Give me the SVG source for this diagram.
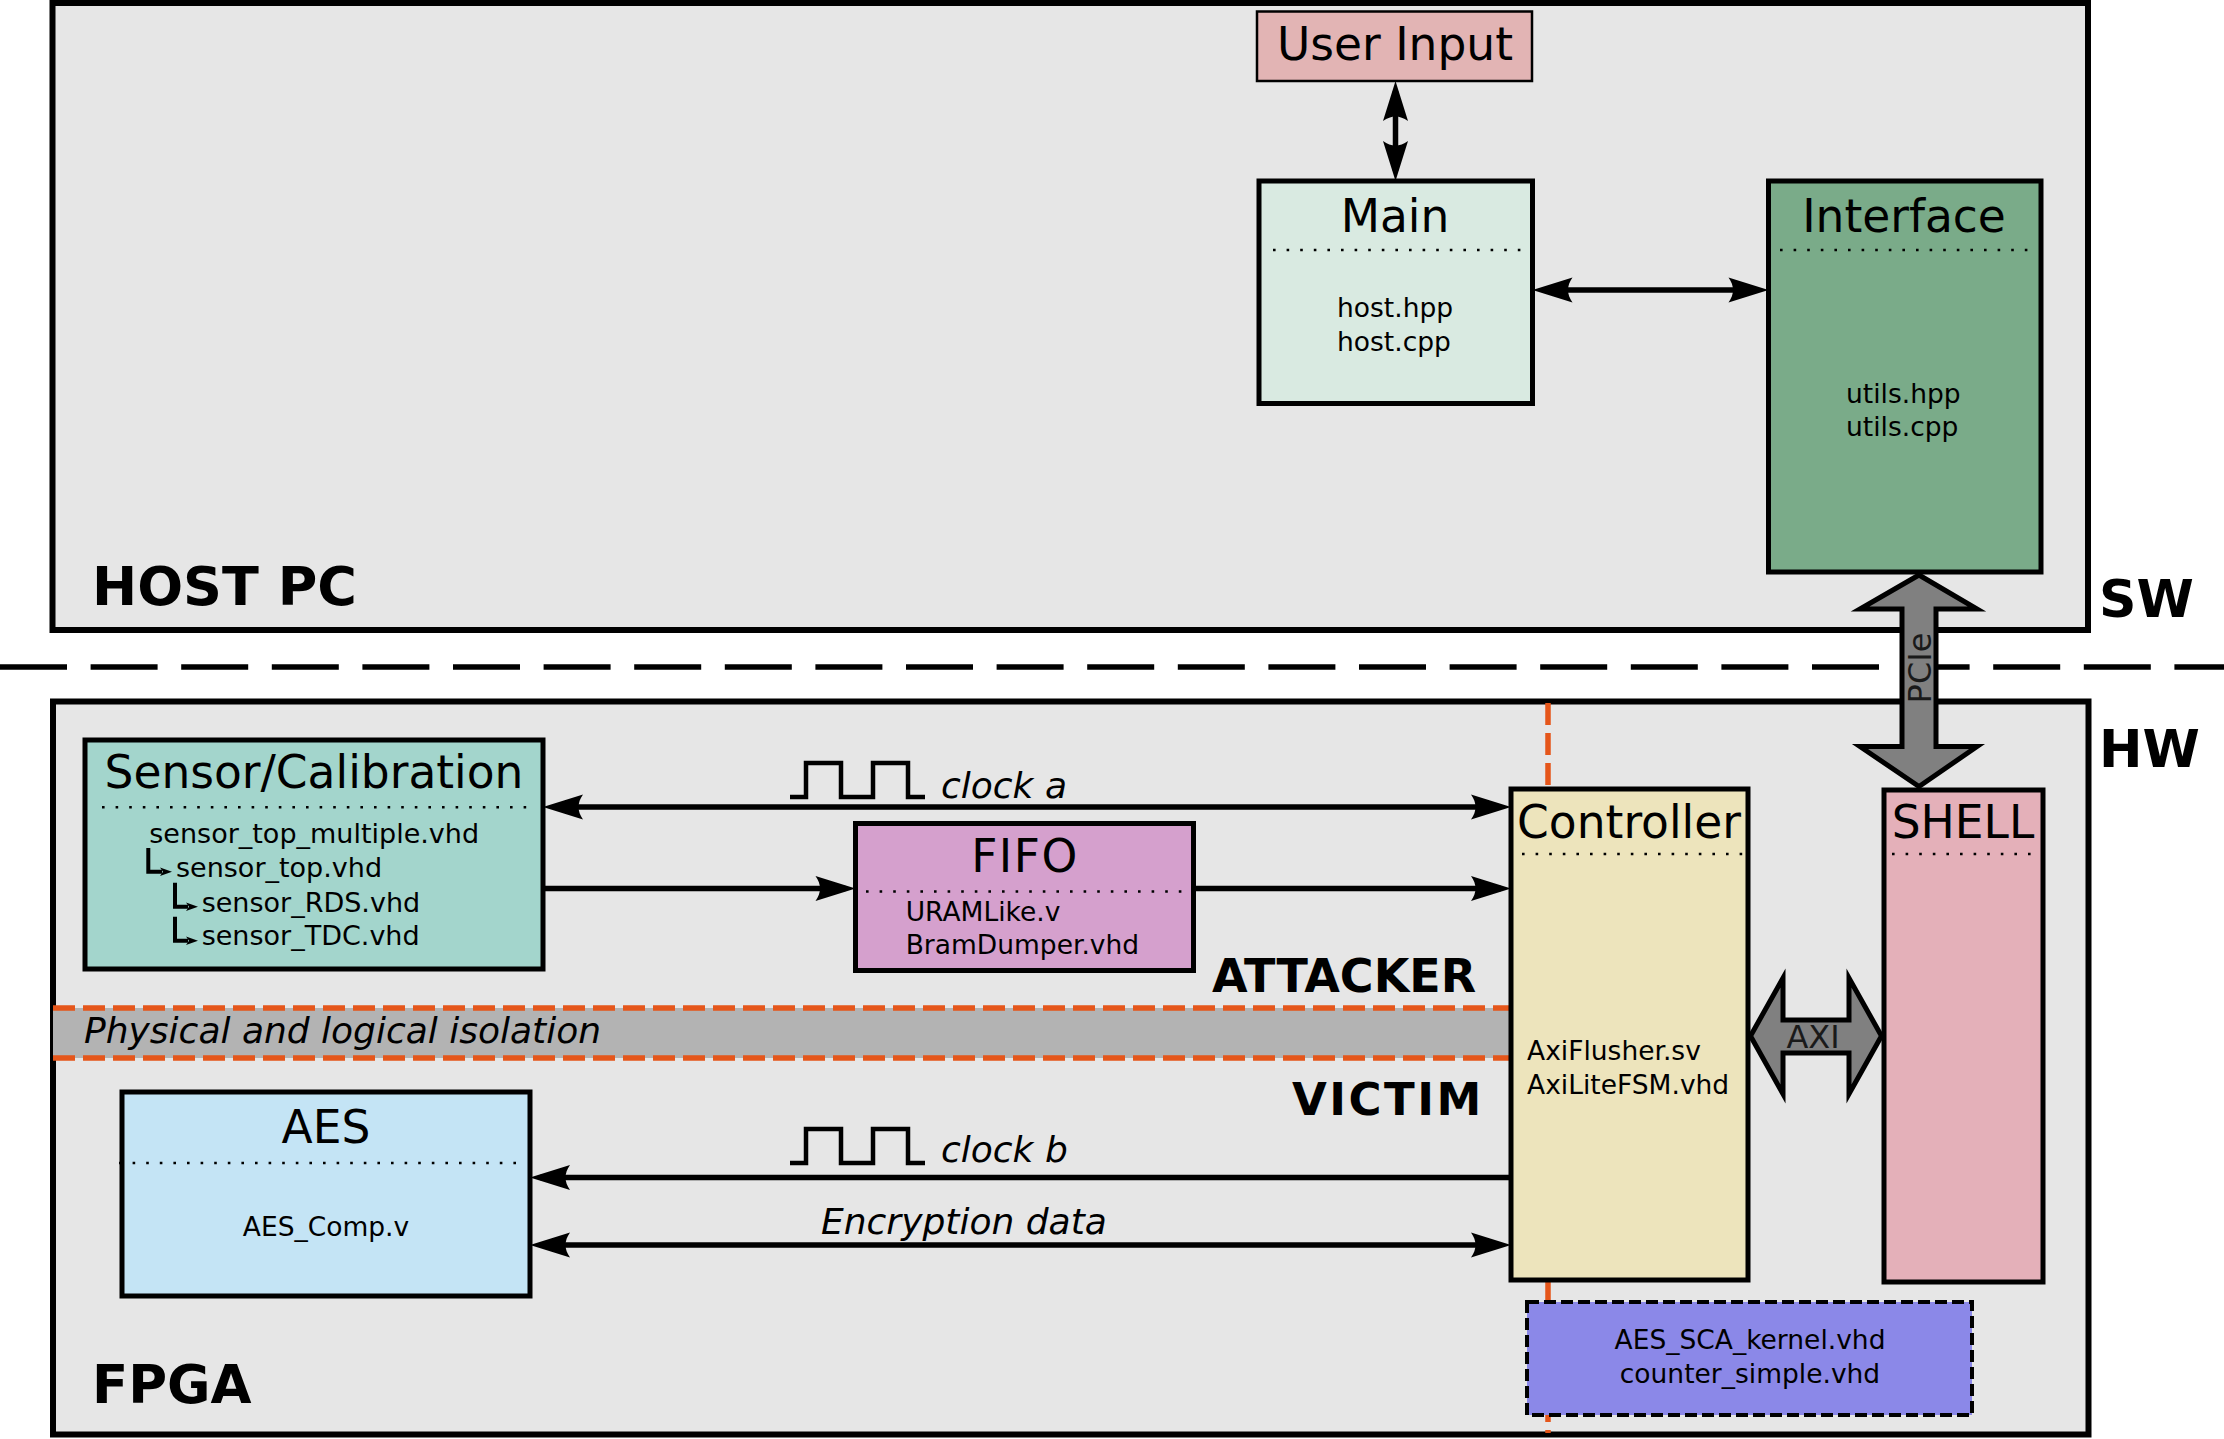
<svg xmlns="http://www.w3.org/2000/svg" width="2224" height="1439" viewBox="0 0 2224 1439">
<defs>
<style>
text{font-family:"DejaVu Sans","Liberation Sans",sans-serif;fill:#000}
.title{font-size:45.5px;text-anchor:middle}
.file{font-size:26.5px}
.big{font-weight:bold}
.lbl{font-size:36px;font-style:italic}
.frame{fill:#e6e6e6;stroke:#000;stroke-width:6}
.node{stroke:#000;stroke-width:5}
.dots{stroke:#000;stroke-width:2.6;stroke-dasharray:2.6 11;fill:none}
.conn{stroke:#000;stroke-width:5.5;fill:none}
.arr{marker-end:url(#ah)}
.arr2{marker-start:url(#ah);marker-end:url(#ah)}
.orange{stroke:#e5561a;stroke-width:5.5;stroke-dasharray:22 8;fill:none}
.fat{fill:#808080;stroke:#000;stroke-width:5;stroke-linejoin:miter}
.clk{stroke:#000;stroke-width:4.5;fill:none}
.sub{stroke:#000;stroke-width:4;fill:none}
</style>
<marker id="ah" markerUnits="userSpaceOnUse" viewBox="-32 -15 44 30" markerWidth="44" markerHeight="30" refX="0" refY="0" orient="auto-start-reverse">
<path d="M10,0 L-30,-12.5 C-24,-4 -24,4 -30,12.5 Z" fill="#000"/>
</marker>
</defs>

<g id="host-pc">
<rect class="frame" x="52.5" y="3" width="2035.5" height="627"/>
<text class="big" x="92" y="605" style="font-size:54px">HOST PC</text>
</g>

<line x1="0" y1="667" x2="2224" y2="667" stroke="#000" stroke-width="5.5" stroke-dasharray="67 23.6"/>
<text class="big" x="2099" y="617" style="font-size:52px">SW</text>
<text class="big" x="2099" y="767" style="font-size:52px">HW</text>

<g id="fpga">
<rect class="frame" x="53" y="701.5" width="2035.5" height="733"/>
<text class="big" x="92" y="1403" style="font-size:53px">FPGA</text>
</g>

<g id="isolation">
<rect x="53" y="1008" width="1458" height="50" fill="#b3b3b3"/>
<line class="orange" x1="53" y1="1008" x2="1511" y2="1008"/>
<line class="orange" x1="53" y1="1058" x2="1511" y2="1058"/>
<text class="lbl" x="84" y="1042.5">Physical and logical isolation</text>
<line class="orange" x1="1548" y1="703" x2="1548" y2="789"/>
<line class="orange" x1="1548" y1="1280" x2="1548" y2="1433"/>
</g>

<text class="big" x="1212" y="992" style="font-size:46px">ATTACKER</text>
<text class="big" x="1292" y="1114.5" style="font-size:45px;letter-spacing:2.5px">VICTIM</text>

<g id="user-input">
<rect x="1257" y="11.5" width="275" height="69.5" fill="#e2b4b4" stroke="#000" stroke-width="2.5"/>
<text class="title" x="1395" y="60">User Input</text>
</g>

<g id="main">
<rect class="node" x="1259" y="181" width="273.5" height="222.5" fill="#d9eae1"/>
<text class="title" x="1395" y="231.5">Main</text>
<line class="dots" x1="1273" y1="250" x2="1528" y2="250"/>
<text class="file" x="1337" y="316.5">host.hpp</text>
<text class="file" x="1337" y="351">host.cpp</text>
</g>

<g id="interface">
<rect class="node" x="1768.5" y="181" width="272.5" height="391" fill="#7aab89"/>
<text class="title" x="1904" y="231.5">Interface</text>
<line class="dots" x1="1780" y1="250" x2="2036" y2="250"/>
<text class="file" x="1846" y="403">utils.hpp</text>
<text class="file" x="1846" y="436">utils.cpp</text>
</g>

<g id="sensor">
<rect class="node" x="85" y="740" width="458" height="229" fill="#a3d5cc"/>
<text class="title" x="314" y="788">Sensor/Calibration</text>
<line class="dots" x1="102" y1="807.3" x2="532" y2="807.3"/>
<text class="file" x="149.3" y="843.3" style="font-size:27px">sensor_top_multiple.vhd</text>
<text class="file" x="176" y="876.7" style="font-size:27px">sensor_top.vhd</text>
<text class="file" x="201.7" y="911.7" style="font-size:27px">sensor_RDS.vhd</text>
<text class="file" x="201.7" y="945" style="font-size:27px">sensor_TDC.vhd</text>
<path class="sub" d="M148.3,848 V871.7 H162"/>
<polygon points="172,871.7 160,867.5 163,871.7 160,875.9" fill="#000"/>
<path class="sub" d="M175,882.7 V906.7 H188"/>
<polygon points="198,906.7 186,902.5 189,906.7 186,910.9" fill="#000"/>
<path class="sub" d="M175,916.7 V940.7 H188"/>
<polygon points="198,940.7 186,936.5 189,940.7 186,944.9" fill="#000"/>
</g>

<g id="fifo">
<rect class="node" x="855.5" y="823.5" width="338" height="147" fill="#d5a0cd"/>
<text class="title" x="1025" y="872" style="letter-spacing:1.5px">FIFO</text>
<line class="dots" x1="866" y1="891.5" x2="1182" y2="891.5"/>
<text class="file" x="905.7" y="921">URAMLike.v</text>
<text class="file" x="905.7" y="954">BramDumper.vhd</text>
</g>

<g id="aes">
<rect class="node" x="122" y="1092" width="408" height="204" fill="#c4e4f5"/>
<text class="title" x="326" y="1143">AES</text>
<line class="dots" x1="119" y1="1163" x2="527" y2="1163"/>
<text class="file" x="326" y="1236" style="text-anchor:middle">AES_Comp.v</text>
</g>

<g id="controller">
<rect class="node" x="1511" y="789" width="237" height="491" fill="#ede4bc"/>
<text class="title" x="1629" y="838">Controller</text>
<line class="dots" x1="1522" y1="854" x2="1746" y2="854"/>
<text class="file" x="1527" y="1060">AxiFlusher.sv</text>
<text class="file" x="1527" y="1094">AxiLiteFSM.vhd</text>
</g>

<g id="shell">
<rect class="node" x="1884" y="790" width="159" height="492" fill="#e4b0b9"/>
<text class="title" x="1963" y="838">SHELL</text>
<line class="dots" x1="1892" y1="854" x2="2040" y2="854"/>
</g>

<g id="kernel-files">
<rect x="1527" y="1302" width="445" height="113" fill="#8b88e8" stroke="#000" stroke-width="4" stroke-dasharray="12 5"/>
<text class="file" x="1750" y="1349" style="text-anchor:middle">AES_SCA_kernel.vhd</text>
<text class="file" x="1750" y="1383" style="text-anchor:middle">counter_simple.vhd</text>
</g>

<g id="connectors">
<line class="conn arr2" x1="1395.5" y1="91" x2="1395.5" y2="171"/>
<line class="conn arr2" x1="1542.5" y1="290" x2="1758.5" y2="290"/>
<line class="conn arr2" x1="553" y1="807" x2="1501" y2="807"/>
<line class="conn arr" x1="543" y1="888.5" x2="845.5" y2="888.5"/>
<line class="conn arr" x1="1193.5" y1="888.5" x2="1501" y2="888.5"/>
<line class="conn arr" x1="1511" y1="1177.5" x2="540" y2="1177.5"/>
<line class="conn arr2" x1="540" y1="1245" x2="1501" y2="1245"/>
<polyline class="clk" points="790,797 806,797 806,763 841,763 841,797 873,797 873,763 908,763 908,797 925,797"/>
<text class="lbl" x="941" y="798">clock a</text>
<polyline class="clk" points="790,1163 806,1163 806,1129 841,1129 841,1163 873,1163 873,1129 908,1129 908,1163 925,1163"/>
<text class="lbl" x="941" y="1162">clock b</text>
<text class="lbl" x="821" y="1234">Encryption data</text>
<g id="pcie">
<polygon class="fat" points="1919,575 1977,609 1936,609 1936,746.5 1977,746.5 1919,786.5 1860,746.5 1902,746.5 1902,609 1860,609"/>
<text x="1931" y="668" transform="rotate(-90 1931 668)" style="font-size:32px;text-anchor:middle;fill:#1a1a1a">PCIe</text>
</g>
<g id="axi">
<polygon class="fat" points="1750.5,1036 1783,978 1783,1020 1849,1020 1849,978 1881.5,1036 1849,1094 1849,1053 1783,1053 1783,1094"/>
<text x="1813" y="1048" style="font-size:32px;text-anchor:middle;fill:#1a1a1a">AXI</text>
</g>
</g>
</svg>
